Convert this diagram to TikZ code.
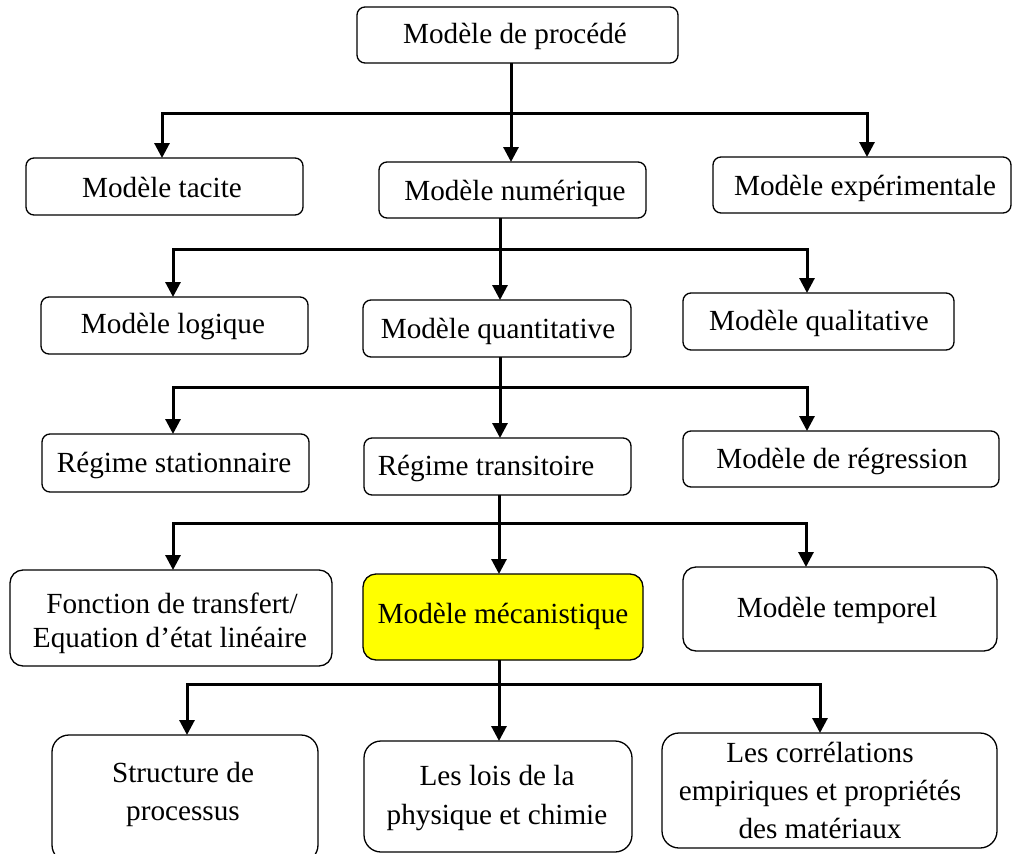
\documentclass[tikz,border=0pt]{standalone}
\usepackage{fontspec}
\setmainfont{Liberation Serif}
\usetikzlibrary{arrows.meta}
\definecolor{hilite}{RGB}{255,255,0}
\begin{document}
\begin{tikzpicture}[x=1pt,y=-1pt,
  box/.style={draw, line width=1.3pt, rounded corners=8pt, inner sep=0pt, outer sep=0pt},
  tallbox/.style={box, rounded corners=13pt},
  bigbox/.style={box, rounded corners=17pt},
  lbl/.style={anchor=base, inner sep=0pt, font=\fontsize{29.2}{34}\selectfont},
  link/.style={line width=3pt},
  arr/.style={line width=3pt, -{Triangle[length=15pt,width=15pt]}},
]
\useasboundingbox (0,0) rectangle (1013,854);

% ---- boxes ----
\node[box, minimum width=321pt, minimum height=56pt] (proc)   at (517.5,35)  {};
\node[box, minimum width=277pt, minimum height=57pt] (tacite) at (164.5,186.5) {};
\node[box, minimum width=267pt, minimum height=56pt] (numer)  at (512.5,190) {};
\node[box, minimum width=298pt, minimum height=56pt] (expe)   at (862,185)   {};
\node[box, minimum width=267pt, minimum height=57pt] (logiq)  at (174.5,325.5) {};
\node[box, minimum width=268pt, minimum height=57pt] (quant)  at (497,328.5) {};
\node[box, minimum width=271pt, minimum height=57pt] (quali)  at (818.5,321.5) {};
\node[box, minimum width=267pt, minimum height=58pt] (stat)   at (175.5,463) {};
\node[box, minimum width=267pt, minimum height=57pt] (trans)  at (497.5,466.5) {};
\node[box, minimum width=316pt, minimum height=56pt] (regr)   at (841,459)   {};
\node[tallbox, minimum width=322pt, minimum height=96pt] (fonct) at (171,618) {};
\node[tallbox, fill=hilite, minimum width=280pt, minimum height=86pt] (meca) at (503,617) {};
\node[tallbox, minimum width=314pt, minimum height=84pt] (tempo) at (840,609) {};
\node[bigbox, minimum width=266pt, minimum height=127pt] (struct) at (185,798.5) {};
\node[bigbox, minimum width=268pt, minimum height=111pt] (lois)   at (498,796.5) {};
\node[bigbox, minimum width=335pt, minimum height=115pt] (corr)   at (829.5,790.5) {};

% ---- labels ----
\node[lbl] (tproc)   at (515,43)  {Modèle de procédé};
\node[lbl] (ttacite) at (162,197) {Modèle tacite};
\node[lbl] (tnumer)  at (515,200) {Modèle numérique};
\node[lbl] (texpe)   at (865,195) {Modèle expérimentale};
\node[lbl] (tlogiq)  at (173,333) {Modèle logique};
\node[lbl] (tquant)  at (498,338) {Modèle quantitative};
\node[lbl] (tquali)  at (819,330) {Modèle qualitative};
\node[lbl] (tstat)   at (174,472) {Régime stationnaire};
\node[lbl] (ttrans)  at (486,475) {Régime transitoire};
\node[lbl] (tregr)   at (842,468) {Modèle de régression};
\node[lbl] (tfonctA) at (172,613) {Fonction de transfert/};
\node[lbl] (tfonctB) at (170,647) {Equation d’état linéaire};
\node[lbl] (tmeca)   at (503,623) {Modèle mécanistique};
\node[lbl] (ttempo)  at (837,617) {Modèle temporel};
\node[lbl] (tstructA) at (183,782) {Structure de};
\node[lbl] (tstructB) at (183,820) {processus};
\node[lbl] (tloisA)  at (497,785) {Les lois de la};
\node[lbl] (tloisB)  at (497,824) {physique et chimie};
\node[lbl] (tcorrA)  at (820,762) {Les corrélations};
\node[lbl] (tcorrB)  at (820,800) {empiriques et propriétés};
\node[lbl] (tcorrC)  at (820,838) {des matériaux};

% ---- bus junctions and branch columns ----
\coordinate (j1) at (511,113); \coordinate (l1) at (162,113); \coordinate (r1) at (867,113);
\coordinate (j2) at (500,249); \coordinate (l2) at (173,249); \coordinate (r2) at (807,249);
\coordinate (j3) at (500,387); \coordinate (l3) at (173,387); \coordinate (r3) at (807,387);
\coordinate (j4) at (499,523); \coordinate (l4) at (173,523); \coordinate (r4) at (806,523);
\coordinate (j5) at (499,684); \coordinate (l5) at (187,684); \coordinate (r5) at (820,684);

% ---- connectors ----
\draw[arr] (j1 |- proc.south) -- (j1 |- numer.north);
\draw[arr] (j1) -| (l1 |- tacite.north);
\draw[arr] (j1) -| (r1 |- expe.north);

\draw[arr] (j2 |- numer.south) -- (j2 |- quant.north);
\draw[arr] (j2) -| (l2 |- logiq.north);
\draw[arr] (j2) -| (r2 |- quali.north);

\draw[arr] (j3 |- quant.south) -- (j3 |- trans.north);
\draw[arr] (j3) -| (l3 |- stat.north);
\draw[arr] (j3) -| (r3 |- regr.north);

\draw[arr] (j4 |- trans.south) -- (j4 |- meca.north);
\draw[arr] (j4) -| (l4 |- fonct.north);
\draw[arr] (j4) -| (r4 |- tempo.north);

\draw[arr] (j5 |- meca.south) -- (j5 |- lois.north);
\draw[arr] (j5) -| (l5 |- struct.north);
\draw[arr] (j5) -| (r5 |- corr.north);
\end{tikzpicture}
\end{document}
